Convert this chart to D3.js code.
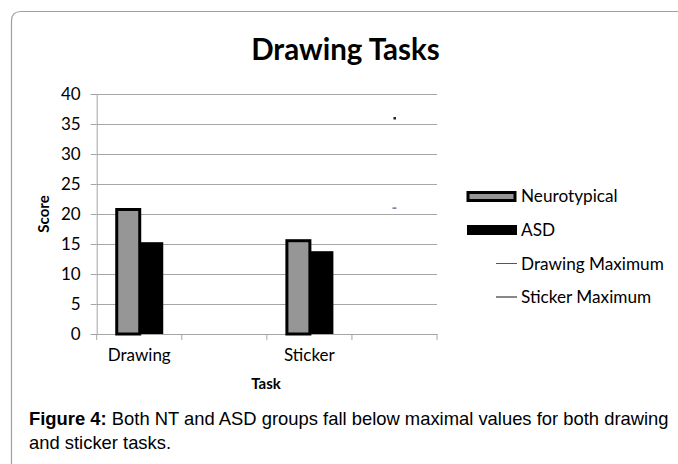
<!DOCTYPE html>
<html><head><meta charset="utf-8">
<script src="https://cdn.jsdelivr.net/npm/d3@7"></script>
<style>
html,body{margin:0;padding:0;background:#fff;}
svg{display:block;}
</style></head>
<body>
<script>
// ---- data ----
const categories = ["Drawing", "", "Sticker", ""];
const neurotypical = [21, null, 15.8, null];
const asd = [15.3, null, 13.8, null];
const drawingMaximum = [null, null, null, 36];
const stickerMaximum = [null, null, null, 21];
const yTicks = [0, 5, 10, 15, 20, 25, 30, 35, 40];
const legendLabels = ["Neurotypical", "ASD", "Drawing Maximum", "Sticker Maximum"];

const W = 678, H = 464;
const svg = d3.select("body").append("svg").attr("width", W).attr("height", H);
const font = "Lato, 'Open Sans', sans-serif";

// outer figure frame
svg.append("path")
  .attr("d", "M11.5,470 V21 Q11.5,11.5 21,11.5 H690")
  .attr("fill", "none").attr("stroke", "#a0a0a0").attr("stroke-width", 1.2);

const plot = {left: 96.7, right: 437, top: 94, bottom: 334};
const x = d3.scaleBand().domain(d3.range(categories.length)).range([plot.left, plot.right]);
const y = d3.scaleLinear().domain([0, 40]).range([plot.bottom, plot.top]);
const inner = d3.scaleBand().domain(["nt", "asd"]).range([x.bandwidth()/2 - 24, x.bandwidth()/2 + 24]);

// gridlines
svg.append("g").selectAll("line").data(yTicks).join("line")
  .attr("x1", plot.left).attr("x2", plot.right)
  .attr("y1", d => Math.round(y(d)) + 0.5).attr("y2", d => Math.round(y(d)) + 0.5)
  .attr("stroke", "#a6a6a6").attr("stroke-width", 1);

// y axis
const yAxis = svg.append("g").attr("transform", `translate(${plot.left},0)`)
  .call(d3.axisLeft(y).tickValues(yTicks).tickSize(6).tickPadding(10));
yAxis.select(".domain").attr("stroke", "#a6a6a6");
yAxis.selectAll(".tick line").attr("stroke", "#a6a6a6");
yAxis.selectAll("text").attr("font-family", font).attr("font-size", 17).attr("fill", "#000");

// x axis
const xAxis = svg.append("g").attr("transform", `translate(0,${plot.bottom})`)
  .call(d3.axisBottom(x).tickFormat(i => categories[i]).tickSize(0).tickPadding(15));
xAxis.select(".domain").attr("stroke", "#a6a6a6");
xAxis.selectAll("text").attr("font-family", font).attr("font-size", 17).attr("fill", "#000");
// category boundary tick marks
svg.append("g").selectAll("line").data(d3.range(categories.length + 1)).join("line")
  .attr("x1", i => i < categories.length ? x(i) : x.range()[1])
  .attr("x2", i => i < categories.length ? x(i) : x.range()[1])
  .attr("y1", plot.bottom).attr("y2", plot.bottom + 6)
  .attr("stroke", "#a6a6a6");

// bars
const ntData = neurotypical.map((v, i) => ({i, v})).filter(d => d.v != null);
const asdData = asd.map((v, i) => ({i, v})).filter(d => d.v != null);
svg.append("g").selectAll("rect").data(asdData).join("rect")
  .attr("x", d => x(d.i) + inner("asd"))
  .attr("width", inner.bandwidth())
  .attr("y", d => y(d.v)).attr("height", d => y(0) - y(d.v))
  .attr("fill", "#000");
svg.append("g").selectAll("rect").data(ntData).join("rect")
  .attr("x", d => x(d.i) + inner("nt") + 1.5)
  .attr("width", inner.bandwidth() - 1)
  .attr("y", d => y(d.v) + 1.5).attr("height", d => y(0) - y(d.v) - 1.5)
  .attr("fill", "#969696").attr("stroke", "#000").attr("stroke-width", 3);

// maximum series (single points)
const dm = drawingMaximum.map((v, i) => ({i, v})).filter(d => d.v != null);
const sm = stickerMaximum.map((v, i) => ({i, v})).filter(d => d.v != null);
svg.append("g").selectAll("rect").data(dm).join("rect")
  .attr("x", d => x(d.i) + x.bandwidth()/2 - 1).attr("y", d => y(d.v) - 1)
  .attr("width", 2.5).attr("height", 2.5).attr("fill", "#222");
svg.append("g").selectAll("rect").data(sm).join("rect")
  .attr("x", d => x(d.i) + x.bandwidth()/2 - 2).attr("y", d => y(d.v) - 0.5)
  .attr("width", 4).attr("height", 1.2).attr("fill", "#5b4a86");

// title
svg.append("text").attr("x", 345.5).attr("y", 60).attr("text-anchor", "middle")
  .attr("font-family", font).attr("font-weight", "bold").attr("font-size", 29.5)
  .text("Drawing Tasks");

// axis titles
svg.append("text").attr("transform", "translate(49,214) rotate(-90)").attr("text-anchor", "middle")
  .attr("font-family", font).attr("font-weight", "bold").attr("font-size", 15).text("Score");
svg.append("text").attr("x", 266).attr("y", 389).attr("text-anchor", "middle")
  .attr("font-family", font).attr("font-weight", "bold").attr("font-size", 15).text("Task");

// legend
const lg = svg.append("g");
const ly = [196, 230, 263.5, 297];
lg.append("rect").attr("x", 468).attr("y", 192.5).attr("width", 47).attr("height", 8)
  .attr("fill", "#969696").attr("stroke", "#000").attr("stroke-width", 3);
lg.append("rect").attr("x", 467).attr("y", 225).attr("width", 50).attr("height", 10).attr("fill", "#000");
lg.append("line").attr("x1", 496).attr("x2", 517).attr("y1", ly[2]).attr("y2", ly[2]).attr("stroke", "#555").attr("stroke-width", 1);
lg.append("line").attr("x1", 496).attr("x2", 517).attr("y1", ly[3]).attr("y2", ly[3]).attr("stroke", "#111").attr("stroke-width", 1);
lg.selectAll("text").data(legendLabels).join("text")
  .attr("x", 521).attr("y", (d, i) => ly[i]).attr("dy", "0.35em")
  .attr("font-family", font).attr("font-size", 17.2).text(d => d);

// caption: fit first line to the reference width (29 -> 669)
const cap = svg.append("g").attr("font-family", "'Liberation Sans', Arial, sans-serif").attr("font-size", 16);
const t1 = cap.append("text").attr("x", 29).attr("y", 425);
t1.append("tspan").attr("font-weight", "bold").text("Figure 4:");
t1.append("tspan").text(" Both NT and ASD groups fall below maximal values for both drawing");
const t2 = cap.append("text").attr("x", 29).attr("y", 449).text("and sticker tasks.");
const w = t1.node().getComputedTextLength();
cap.attr("font-size", 16 * 640 / w);
</script>
</body></html>
